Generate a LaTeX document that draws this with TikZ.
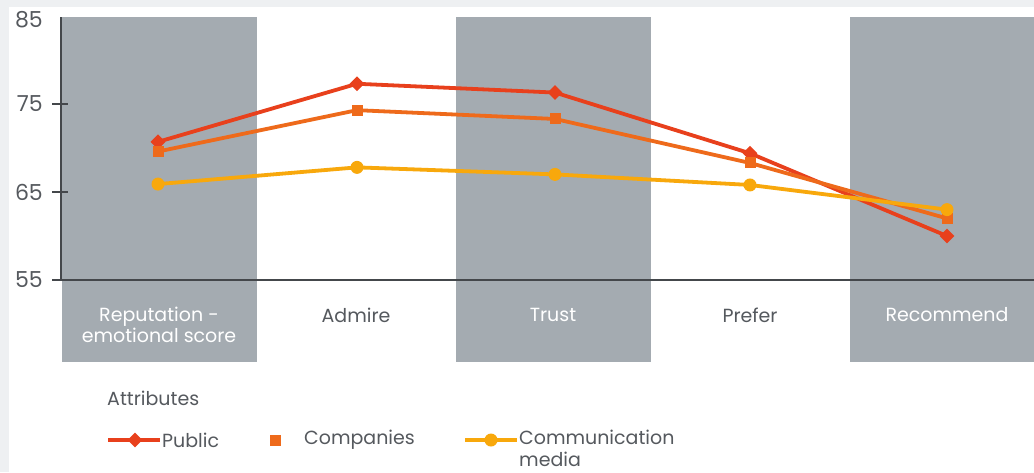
\documentclass[tikz,border=0pt]{standalone}
\usepackage{fontspec}
\setmainfont{Poppins}
\usetikzlibrary{shapes.geometric}
\definecolor{pagegrey}{HTML}{EEF0F2}
\definecolor{bandgrey}{HTML}{A4ABB1}
\definecolor{textgrey}{HTML}{55595E}
\definecolor{publicred}{HTML}{E8401C}
\definecolor{comporange}{HTML}{EE6A1B}
\definecolor{mediaamber}{HTML}{F8A80C}

\begin{document}
\begin{tikzpicture}[x=1pt,y=-1pt,
    lbl/.style={inner sep=0pt,font=\fontsize{19}{22}\selectfont,text=textgrey},
    ylbl/.style={lbl,anchor=east,font=\fontsize{22}{24}\selectfont},
    axis/.style={draw=textgrey!80!black,line width=1.6pt},
    series/.style={line width=3.8pt,line join=round,line cap=round},
    pubmark/.style={diamond,fill=publicred,inner sep=0pt,minimum size=15pt},
    compmark/.style={rectangle,fill=comporange,inner sep=0pt,minimum size=11pt},
    medmark/.style={circle,fill=mediaamber,inner sep=0pt,minimum size=13pt}]

    % page and panel
    \fill[pagegrey] (0,0) rectangle (1034,472);
    \fill[white] (9,7) rectangle (1034,472);
    \useasboundingbox (0,0) rectangle (1034,472);

    % shaded columns
    \fill[bandgrey] (62,17) rectangle (257,362);
    \fill[bandgrey] (456,17) rectangle (651,362);
    \fill[bandgrey] (850,17) rectangle (1034,362);

    % axis
    \draw[axis] (61,17) -- (61,280);
    \draw[axis] (52,280) -- (1034,280);
    \draw[axis] (52,104) -- (68,104);
    \draw[axis] (52,192) -- (68,192);

    \node[ylbl] (y85) at (43,20) {85};
    \node[ylbl] (y75) at (43,104) {75};
    \node[ylbl] (y65) at (43,192) {65};
    \node[ylbl] (y55) at (43,280) {55};

    % column labels
    \node[lbl,text=white,align=center,font=\fontsize{19}{21}\selectfont] (rep) at (159,325) {Reputation -\\emotional score};
    \node[lbl] (adm) at (356,315) {Admire};
    \node[lbl,text=white] (tru) at (553,315) {Trust};
    \node[lbl] (pre) at (750,315) {Prefer};
    \node[lbl,text=white] (rec) at (947,315) {Recommend};

    % data points
    \begin{scope}[shift={(0,764)},y=8.8pt]
        \coordinate (p1) at (158,70.7);
        \coordinate (p2) at (357,77.3);
        \coordinate (p3) at (555,76.3);
        \coordinate (p4) at (750,69.4);
        \coordinate (p5) at (947,60.0);
        \coordinate (c1) at (158,69.6);
        \coordinate (c2) at (357,74.3);
        \coordinate (c3) at (555,73.3);
        \coordinate (c4) at (750,68.3);
        \coordinate (c5) at (947,62.0);
        \coordinate (m1) at (158,65.9);
        \coordinate (m2) at (357,67.8);
        \coordinate (m3) at (555,67.0);
        \coordinate (m4) at (750,65.8);
        \coordinate (m5) at (947,63.0);
    \end{scope}

    \draw[series,publicred] (p1) -- (p2) -- (p3) -- (p4) -- (p5);
    \foreach \i in {1,...,5}
        \node[pubmark] (pm\i) at (p\i) {};
    \draw[series,comporange] (c1) -- (c2) -- (c3) -- (c4) -- (c5);
    \foreach \i in {1,...,5}
        \node[compmark] (cm\i) at (c\i) {};
    \draw[series,mediaamber] (m1) -- (m2) -- (m3) -- (m4) -- (m5);
    \foreach \i in {1,...,5}
        \node[medmark] (mm\i) at (m\i) {};

    % legend
    \node[lbl,anchor=west] (attr) at (107,398) {Attributes};
    \coordinate (lp1) at (108,440);
    \coordinate (lp2) at (160,440);
    \draw[series,publicred,line cap=butt] (lp1) -- (lp2);
    \node[pubmark] (lpm) at (135,440) {};
    \node[lbl,anchor=west] (lpub) at (162,440) {Public};
    \node[compmark] (lcm) at (275,440) {};
    \node[lbl,anchor=west] (lcomp) at (304,440) {Companies};
    \coordinate (lm1) at (465,440);
    \coordinate (lm2) at (517,440);
    \draw[series,mediaamber,line cap=butt] (lm1) -- (lm2);
    \node[medmark] (lmm) at (491,440) {};
    \node[lbl,anchor=north west,align=left,font=\fontsize{19}{22}\selectfont] (lmed) at (519,430) {Communication\\media};
\end{tikzpicture}
\end{document}
